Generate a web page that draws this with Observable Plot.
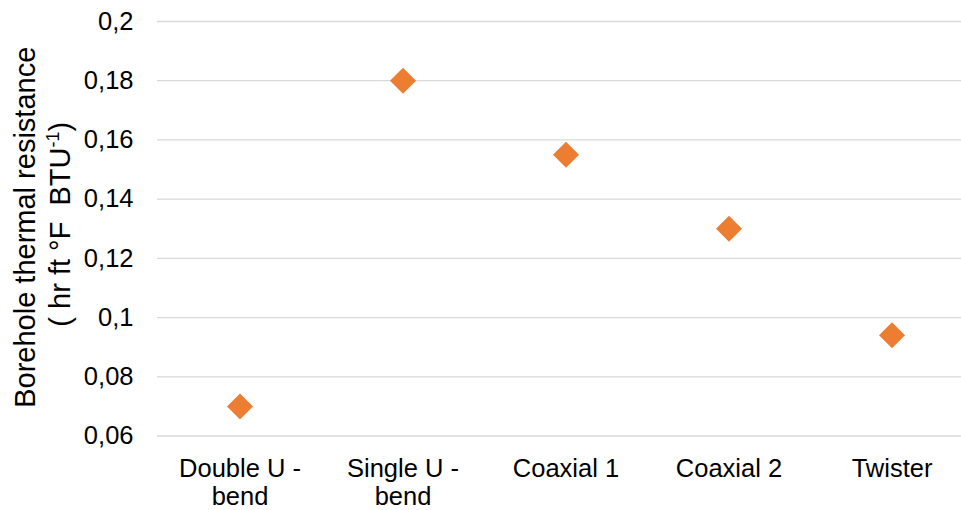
<!DOCTYPE html>
<html>
<head>
<meta charset="utf-8">
<script src="https://cdn.jsdelivr.net/npm/d3@7"></script>
<script src="https://cdn.jsdelivr.net/npm/@observablehq/plot@0.6"></script>
<style>
  html, body { margin: 0; padding: 0; background: #fff; }
</style>
</head>
<body>
<div id="chart"></div>
<script>
const categories = ["Double U - bend", "Single U - bend", "Coaxial 1", "Coaxial 2", "Twister"];
const categoryLabels = ["Double U -\nbend", "Single U -\nbend", "Coaxial 1", "Coaxial 2", "Twister"];
const resistance = [0.07, 0.18, 0.155, 0.13, 0.094];
const yTicks = [0.06, 0.08, 0.1, 0.12, 0.14, 0.16, 0.18, 0.2];
const yTickLabels = ["0,06", "0,08", "0,1", "0,12", "0,14", "0,16", "0,18", "0,2"];
const titleLine1 = "Borehole thermal resistance";
const titleLine2 = "( hr ft °F  BTU";
const titleSup = "-1";
const titleEnd = ")";

const data = categories.map((c, i) => ({cat: c, value: resistance[i]}));

const W = 961, H = 510;
const mL = 157, mT = 21, mB = 74.5;

const chart = Plot.plot({
  width: W,
  height: H,
  marginLeft: mL,
  marginRight: 0,
  marginTop: mT,
  marginBottom: mB,
  style: {fontFamily: "'Liberation Sans', Arial, sans-serif", background: "#fff", color: "#000", overflow: "visible"},
  x: {type: "band", domain: categories, range: [157, 974], padding: 0},
  y: {domain: [0.06, 0.2]},
  marks: [
    Plot.gridY(yTicks, {stroke: "#d9d9d9", strokeOpacity: 1, strokeWidth: 1.3}),
    Plot.axisY(yTicks, {
      tickSize: 0, tickPadding: 24, fontSize: 25.5, fill: "#000", label: null,
      tickFormat: d => yTickLabels[yTicks.indexOf(d)]
    }),
    Plot.axisX({
      tickSize: 0, tickPadding: 21, fontSize: 25.5, fill: "#000", label: null, lineHeight: 1.1,
      tickFormat: d => categoryLabels[categories.indexOf(d)]
    }),
    Plot.dot(data, {x: "cat", y: "value", symbol: "diamond2", r: 11.7, fill: "#ED7D31", stroke: "none"})
  ]
});

document.getElementById("chart").appendChild(chart);

// Y axis title (two rotated lines, second with superscript)
const svg = d3.select(chart);
const cy = (mT + (H - mB)) / 2;
svg.append("text")
  .attr("transform", `translate(35,${cy - 1}) rotate(-90)`)
  .attr("text-anchor", "middle")
  .attr("font-size", 29)
  .attr("fill", "#000")
  .text(titleLine1);
const t2 = svg.append("text")
  .attr("transform", `translate(70,${cy - 4}) rotate(-90)`)
  .attr("text-anchor", "middle")
  .attr("font-size", 29)
  .attr("fill", "#000");
t2.append("tspan").text(titleLine2);
t2.append("tspan").attr("font-size", 18).attr("dy", -11).text(titleSup);
t2.append("tspan").attr("dy", 11).text(titleEnd);
</script>
</body>
</html>
